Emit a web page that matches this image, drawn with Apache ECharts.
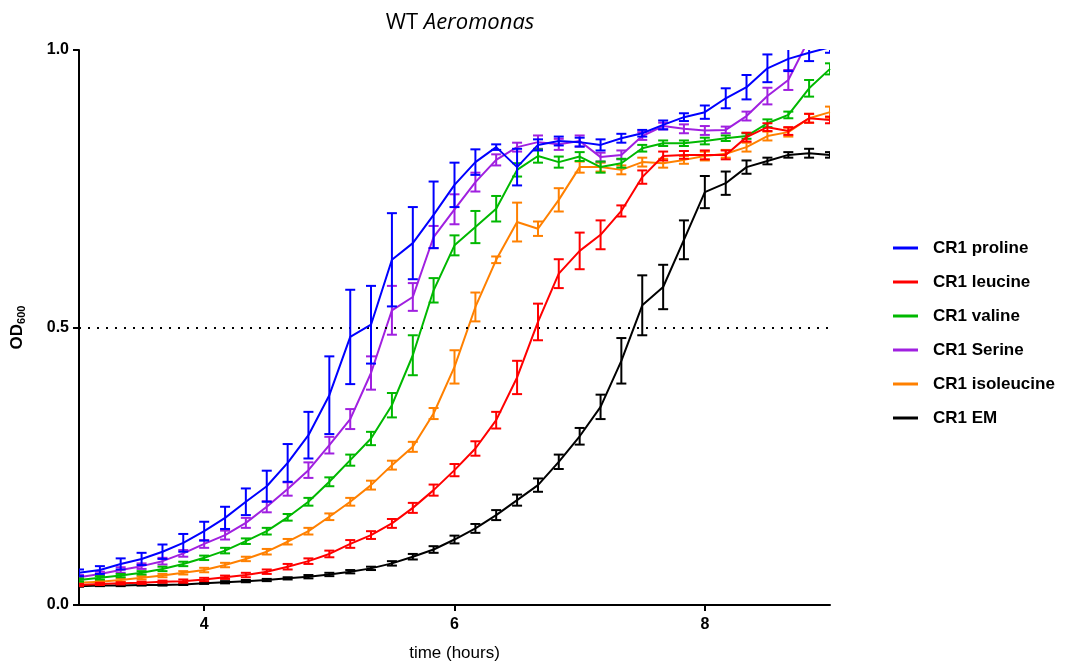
<!DOCTYPE html>
<html>
<head>
<meta charset="utf-8">
<script src="https://cdn.jsdelivr.net/npm/echarts@6/dist/echarts.min.js"></script>
<style>
  html, body { margin: 0; padding: 0; background: #fff; }
  #chart { width: 1070px; height: 669px; }
</style>
</head>
<body>
<div id="chart"></div>
<script>
// sampling times (hours), every 10 minutes
const hours = [3.000, 3.167, 3.333, 3.500, 3.667, 3.833, 4.000, 4.167, 4.333, 4.500, 4.667, 4.833,
  5.000, 5.167, 5.333, 5.500, 5.667, 5.833, 6.000, 6.167, 6.333, 6.500, 6.667, 6.833,
  7.000, 7.167, 7.333, 7.500, 7.667, 7.833, 8.000, 8.167, 8.333, 8.500, 8.667, 8.833, 9.000];

const proline = [0.058, 0.063, 0.074, 0.083, 0.096, 0.112, 0.133, 0.157, 0.186, 0.214, 0.256, 0.306,
  0.378, 0.483, 0.505, 0.622, 0.652, 0.703, 0.757, 0.798, 0.825, 0.789, 0.829, 0.836,
  0.834, 0.829, 0.841, 0.850, 0.865, 0.879, 0.888, 0.913, 0.933, 0.967, 0.984, 0.995, 1.005];
const prolineErr = [0.006, 0.007, 0.010, 0.011, 0.013, 0.016, 0.017, 0.020, 0.024, 0.028, 0.034, 0.042,
  0.070, 0.085, 0.070, 0.084, 0.065, 0.060, 0.040, 0.023, 0.005, 0.033, 0.010, 0.008,
  0.008, 0.010, 0.008, 0.006, 0.008, 0.007, 0.012, 0.018, 0.022, 0.025, 0.022, 0.015, 0.010];

const leucine = [0.036, 0.038, 0.039, 0.040, 0.042, 0.043, 0.046, 0.050, 0.054, 0.060, 0.069, 0.079,
  0.092, 0.110, 0.126, 0.147, 0.175, 0.207, 0.243, 0.282, 0.333, 0.410, 0.510, 0.597,
  0.638, 0.667, 0.710, 0.771, 0.809, 0.811, 0.811, 0.811, 0.843, 0.861, 0.854, 0.877, 0.874];
const leucineErr = [0.002, 0.002, 0.002, 0.002, 0.002, 0.003, 0.003, 0.003, 0.004, 0.004, 0.005, 0.005,
  0.006, 0.007, 0.007, 0.008, 0.009, 0.010, 0.011, 0.013, 0.015, 0.030, 0.033, 0.026,
  0.033, 0.026, 0.010, 0.012, 0.008, 0.007, 0.008, 0.008, 0.008, 0.007, 0.007, 0.008, 0.006];

const valine = [0.045, 0.049, 0.053, 0.058, 0.065, 0.074, 0.085, 0.098, 0.115, 0.133, 0.158, 0.186,
  0.222, 0.261, 0.300, 0.360, 0.450, 0.567, 0.648, 0.681, 0.714, 0.784, 0.809, 0.798,
  0.808, 0.789, 0.796, 0.823, 0.832, 0.832, 0.836, 0.841, 0.845, 0.868, 0.883, 0.931, 0.966];
const valineErr = [0.003, 0.003, 0.003, 0.003, 0.004, 0.004, 0.004, 0.005, 0.005, 0.006, 0.006, 0.007,
  0.008, 0.010, 0.012, 0.022, 0.036, 0.022, 0.018, 0.029, 0.023, 0.012, 0.012, 0.010,
  0.008, 0.010, 0.008, 0.006, 0.005, 0.005, 0.006, 0.005, 0.005, 0.007, 0.006, 0.015, 0.010];

const serine = [0.050, 0.056, 0.063, 0.070, 0.079, 0.093, 0.110, 0.126, 0.148, 0.177, 0.209, 0.243,
  0.288, 0.335, 0.418, 0.531, 0.555, 0.663, 0.713, 0.762, 0.802, 0.825, 0.834, 0.830,
  0.836, 0.807, 0.811, 0.845, 0.863, 0.858, 0.855, 0.856, 0.881, 0.917, 0.946, 1.020, 1.050];
const serineErr = [0.004, 0.004, 0.005, 0.005, 0.006, 0.006, 0.007, 0.008, 0.009, 0.010, 0.012, 0.014,
  0.015, 0.018, 0.030, 0.044, 0.025, 0.020, 0.027, 0.017, 0.010, 0.008, 0.012, 0.010,
  0.010, 0.008, 0.008, 0.007, 0.006, 0.008, 0.008, 0.006, 0.008, 0.015, 0.018, 0.015, 0.015];

const isoleucine = [0.040, 0.042, 0.045, 0.049, 0.053, 0.058, 0.063, 0.072, 0.083, 0.096, 0.114, 0.133,
  0.159, 0.186, 0.216, 0.252, 0.285, 0.345, 0.429, 0.537, 0.622, 0.690, 0.678, 0.730,
  0.789, 0.789, 0.784, 0.798, 0.796, 0.802, 0.809, 0.813, 0.825, 0.845, 0.852, 0.877, 0.888];
const isoleucineErr = [0.002, 0.002, 0.003, 0.003, 0.003, 0.003, 0.004, 0.004, 0.004, 0.005, 0.005, 0.006,
  0.006, 0.007, 0.008, 0.008, 0.009, 0.010, 0.030, 0.026, 0.006, 0.035, 0.013, 0.021,
  0.010, 0.008, 0.008, 0.008, 0.008, 0.007, 0.008, 0.007, 0.008, 0.008, 0.008, 0.008, 0.010];

const em = [0.034, 0.035, 0.035, 0.036, 0.036, 0.037, 0.039, 0.041, 0.043, 0.045, 0.048, 0.051,
  0.055, 0.060, 0.066, 0.075, 0.087, 0.100, 0.118, 0.138, 0.162, 0.189, 0.216, 0.258,
  0.304, 0.357, 0.440, 0.540, 0.573, 0.658, 0.744, 0.760, 0.789, 0.800, 0.811, 0.814, 0.811];
const emErr = [0.001, 0.001, 0.001, 0.001, 0.001, 0.001, 0.001, 0.002, 0.002, 0.002, 0.002, 0.003,
  0.003, 0.003, 0.003, 0.004, 0.005, 0.006, 0.007, 0.008, 0.009, 0.010, 0.012, 0.013,
  0.015, 0.022, 0.041, 0.054, 0.040, 0.035, 0.029, 0.021, 0.012, 0.006, 0.005, 0.008, 0.005];

const xTicks = [4, 6, 8];

const groups = [
  { name: 'CR1 proline', color: '#0000ff', vals: proline, errs: prolineErr },
  { name: 'CR1 leucine', color: '#ff0000', vals: leucine, errs: leucineErr },
  { name: 'CR1 valine', color: '#00b800', vals: valine, errs: valineErr },
  { name: 'CR1 Serine', color: '#a020e0', vals: serine, errs: serineErr },
  { name: 'CR1 isoleucine', color: '#ff8000', vals: isoleucine, errs: isoleucineErr },
  { name: 'CR1 EM', color: '#000000', vals: em, errs: emErr },
];

const font = 'Liberation Sans, Arial, sans-serif';

function lineSeries(g, z) {
  return {
    name: g.name,
    type: 'line',
    data: hours.map((t, i) => [t, g.vals[i]]),
    symbol: 'none',
    color: g.color,
    lineStyle: { width: 2, color: g.color },
    clip: true,
    z: z,
    silent: true,
  };
}

function errSeries(g, z) {
  return {
    name: g.name + ' SD',
    type: 'custom',
    clip: true,
    z: z,
    silent: true,
    data: hours.map((t, i) => [t, g.vals[i] - g.errs[i], g.vals[i] + g.errs[i]]),
    encode: { x: 0, y: [1, 2] },
    renderItem: (params, api) => {
      const lo = api.coord([api.value(0), api.value(1)]);
      const hi = api.coord([api.value(0), api.value(2)]);
      const w = 5;
      const style = { stroke: g.color, lineWidth: 2 };
      return {
        type: 'group',
        children: [
          { type: 'line', shape: { x1: hi[0], y1: hi[1], x2: lo[0], y2: lo[1] }, style },
          { type: 'line', shape: { x1: hi[0] - w, y1: hi[1], x2: hi[0] + w, y2: hi[1] }, style },
          { type: 'line', shape: { x1: lo[0] - w, y1: lo[1], x2: lo[0] + w, y2: lo[1] }, style },
        ],
      };
    },
  };
}

const series = [];
groups.slice().reverse().forEach((g, k) => {
  series.push(lineSeries(g, 2 + k));
  series.push(errSeries(g, 2 + k));
});

// dotted reference line at OD 0.5
series[0].markLine = {
  silent: true,
  symbol: 'none',
  label: { show: false },
  lineStyle: { color: '#000', type: [2, 7], width: 2 },
  data: [{ yAxis: 0.5 }],
};

const chart = echarts.init(document.getElementById('chart'));
chart.setOption({
  animation: false,
  backgroundColor: '#fff',
  title: {
    text: '{n|WT }{i|Aeromonas}',
    left: 455,
    textAlign: 'center',
    top: 7,
    textStyle: {
      fontWeight: 'normal',
      rich: {
        n: { fontFamily: 'Open Sans, sans-serif', fontSize: 22, fontWeight: 'normal', color: '#000' },
        i: { fontFamily: 'Open Sans, sans-serif', fontSize: 22, fontWeight: 'normal', fontStyle: 'italic', color: '#000' },
      },
    },
  },
  grid: { left: 79, right: 240, top: 50, bottom: 64, containLabel: false },
  legend: {
    orient: 'vertical',
    left: 888,
    top: 233,
    itemGap: 14,
    itemWidth: 25,
    itemHeight: 3,
    icon: 'rect',
    data: groups.map((g) => g.name),
    textStyle: { fontFamily: font, fontSize: 17, fontWeight: 'bold', color: '#000', lineHeight: 20, padding: [0, 0, 0, 10] },
  },
  xAxis: {
    type: 'value',
    min: 3,
    max: 9,
    name: 'time (hours)',
    nameLocation: 'middle',
    nameGap: 40,
    nameTextStyle: { fontFamily: font, fontSize: 17, color: '#000' },
    axisLine: { lineStyle: { color: '#000', width: 2 } },
    axisTick: { customValues: xTicks, length: 6, lineStyle: { color: '#000', width: 2 } },
    axisLabel: { customValues: xTicks, fontFamily: font, fontSize: 16, fontWeight: 'bold', color: '#000', margin: 12 },
    splitLine: { show: false },
  },
  yAxis: {
    type: 'value',
    min: 0,
    max: 1,
    interval: 0.5,
    name: '{b|OD}{s|600}',
    nameLocation: 'middle',
    nameGap: 52,
    nameRotate: 90,
    nameTextStyle: {
      rich: {
        b: { fontFamily: font, fontSize: 17, fontWeight: 'bold', color: '#000' },
        s: { fontFamily: font, fontSize: 11, fontWeight: 'bold', color: '#000', verticalAlign: 'bottom', padding: [8, 0, 0, 0] },
      },
    },
    axisLine: { show: true, lineStyle: { color: '#000', width: 2 } },
    axisTick: { show: true, length: 6, lineStyle: { color: '#000', width: 2 } },
    axisLabel: { fontFamily: font, fontSize: 16, fontWeight: 'bold', color: '#000', margin: 10, formatter: (v) => v.toFixed(1) },
    splitLine: { show: false },
  },
  series: series,
});
</script>
</body>
</html>
